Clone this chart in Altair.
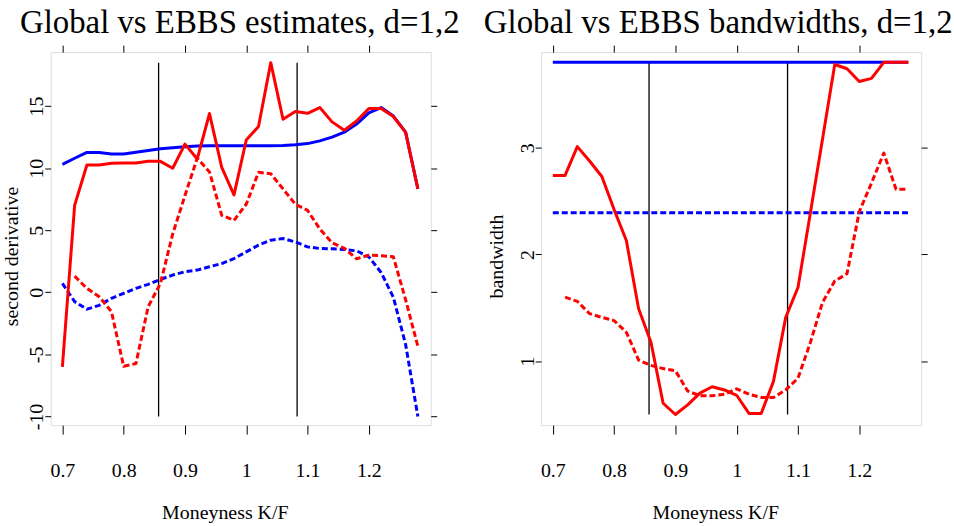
import altair as alt
import pandas as pd

FONT = "Liberation Serif"
BLUE = "#0000FF"
RED = "#FF0000"

# Moneyness grid
x_vals = [0.70, 0.72, 0.74, 0.76, 0.78, 0.80, 0.82, 0.84, 0.86, 0.88,
          0.90, 0.92, 0.94, 0.96, 0.98, 1.00, 1.02, 1.04, 1.06, 1.08,
          1.10, 1.12, 1.14, 1.16, 1.18, 1.20, 1.22, 1.24, 1.26, 1.28]

# Left panel: second derivative estimates
est_global_d1 = [10.3, 10.8, 11.27, 11.27, 11.15, 11.14, 11.28, 11.42, 11.56, 11.65,
                 11.72, 11.78, 11.8, 11.8, 11.8, 11.8, 11.8, 11.8, 11.83, 11.89,
                 11.98, 12.2, 12.5, 12.9, 13.55, 14.45, 14.88, 14.2, 12.9, 8.33]
est_ebbs_d1 = [-6.0, 7.0, 10.26, 10.26, 10.4, 10.42, 10.42, 10.55, 10.55, 9.99,
               11.94, 10.74, 14.4, 10.07, 7.85, 12.27, 13.35, 18.5, 13.94, 14.56,
               14.42, 14.88, 13.73, 13.06, 13.8, 14.8, 14.8, 14.16, 12.88, 8.33]
est_global_d2 = [0.72, -0.75, -1.36, -1.05, -0.48, -0.08, 0.32, 0.64, 1.04, 1.39,
                 1.66, 1.79, 2.06, 2.32, 2.72, 3.26, 3.8, 4.2, 4.33, 4.06,
                 3.66, 3.53, 3.5, 3.45, 3.34, 2.85, 1.6, -0.4, -4.2, -10.0]
est_ebbs_d2 = [None, 1.3, 0.32, -0.35, -1.55, -5.96, -5.74, -1.15, 0.72, 4.7,
               7.8, 10.8, 9.7, 6.2, 5.8, 7.1, 9.67, 9.55, 8.33, 7.1,
               6.6, 5.1, 4.0, 3.55, 2.7, 3.0, 2.95, 2.86, -0.6, -4.35]

# Right panel: bandwidths
bw_global_d1 = [3.8] * 30
bw_global_d2 = [2.39] * 30
bw_ebbs_d1 = [2.74, 2.74, 3.01, 2.875, 2.73, 2.42, 2.13, 1.49, 1.18, 0.605,
              0.50, 0.59, 0.70, 0.76, 0.73, 0.68, 0.51, 0.51, 0.81, 1.41,
              1.69, 2.38, 3.08, 3.78, 3.74, 3.62, 3.65, 3.80, 3.80, 3.80]
bw_ebbs_d2 = [None, 1.60, 1.56, 1.445, 1.41, 1.38, 1.27, 1.01, 0.96, 0.93,
              0.91, 0.72, 0.675, 0.675, 0.69, 0.74, 0.69, 0.66, 0.66, 0.73,
              0.84, 1.17, 1.55, 1.75, 1.82, 2.4, 2.67, 2.95, 2.61, 2.61]

# vertical reference lines
vline_x = [0.857, 1.083]
vline_left = (-10.0, 18.5)
vline_right = (0.5, 3.8)

x_ticks = [0.7, 0.8, 0.9, 1.0, 1.1, 1.2]
x_domain = [0.681, 1.301]

W, H = 382, 375
FS = 20


def series_df(vals):
    return pd.DataFrame({"x": x_vals, "y": vals}).dropna()


def panel(title, series, yd, yticks, ytitle, vy, tdx, ytx):
    xs = alt.Scale(domain=x_domain, nice=False, zero=False)
    ys = alt.Scale(domain=yd, nice=False, zero=False)
    ax_bottom = alt.Axis(values=x_ticks, format=".1~f", orient="bottom", title="Moneyness K/F",
                         domain=False, grid=False, ticks=True, tickSize=9, tickColor="black",
                         tickWidth=1, labelFont=FONT, labelFontSize=FS, labelColor="black",
                         labelBaseline="alphabetic", labelPadding=43, labelFlush=False,
                         titleFont=FONT, titleFontSize=FS, titleFontWeight="normal",
                         titleColor="black", titleX=175, titleY=94, titleBaseline="alphabetic",
                         titleAlign="center")
    ax_left = alt.Axis(values=yticks, labelExpr="'' + datum.value", orient="left", title=ytitle,
                       domain=False, grid=False, tickSize=6, tickColor="black", tickWidth=1,
                       labelFont=FONT, labelFontSize=FS, labelColor="black", labelAngle=270,
                       labelAlign="center", labelBaseline="alphabetic", labelPadding=2,
                       labelFlush=False,
                       titleFont=FONT, titleFontSize=FS, titleFontWeight="normal",
                       titleColor="black", titleAngle=270, titleX=ytx, titleY=205,
                       titleBaseline="alphabetic", titleAlign="center")
    ax_top = alt.Axis(values=x_ticks, orient="top", title=None, labels=False, domain=False,
                      grid=False, tickSize=7, tickColor="black", tickWidth=1)
    ax_right = alt.Axis(values=yticks, orient="right", title=None, labels=False, domain=False,
                        grid=False, tickSize=6, tickColor="black", tickWidth=1)

    vdf = pd.DataFrame({"x": vline_x, "y": [vy[0]] * 2, "y2": [vy[1]] * 2})
    rules = alt.Chart(vdf).mark_rule(color="black", strokeWidth=1.3).encode(
        x=alt.X("x:Q", scale=xs, axis=ax_top),
        y=alt.Y("y:Q", scale=ys, axis=ax_right),
        y2="y2:Q",
    )
    layers = [rules]
    first = True
    for vals, color, dashed in series:
        kw = dict(color=color, strokeWidth=3, strokeCap="butt", strokeJoin="round", clip=True)
        if dashed:
            kw["strokeDash"] = [6, 3]
        layers.append(
            alt.Chart(series_df(vals)).mark_line(**kw).encode(
                x=alt.X("x:Q", scale=xs, axis=ax_bottom if first else None),
                y=alt.Y("y:Q", scale=ys, axis=ax_left if first else None),
            )
        )
        first = False
    return alt.layer(*layers).resolve_axis(x="independent", y="independent").properties(
        width=W, height=H,
        title=alt.TitleParams(title, font=FONT, fontSize=33, fontWeight="normal", color="black",
                              anchor="middle", frame="group", baseline="alphabetic",
                              offset=-21, dx=tdx),
    )


left = panel("Global vs EBBS estimates, d=1,2",
             [(est_global_d1, BLUE, False), (est_global_d2, BLUE, True),
              (est_ebbs_d1, RED, False), (est_ebbs_d2, RED, True)],
             [-10.7, 19.35], [-10, -5, 0, 5, 10, 15], "second derivative", vline_left, -1, -33)
right = panel("Global vs EBBS bandwidths, d=1,2",
              [(bw_global_d1, BLUE, False), (bw_global_d2, BLUE, True),
               (bw_ebbs_d1, RED, False), (bw_ebbs_d2, RED, True)],
              [0.40, 3.896], [1, 2, 3], "bandwidth", vline_right, -13, -39)

chart = alt.hconcat(left, right, spacing=111, bounds="flush").properties(
    padding={"left": 1, "top": 5, "right": 0, "bottom": 0}
).configure_view(stroke="black", strokeWidth=1.3).configure(background="white")

chart.save("out.html", embed_options={"renderer": "svg", "actions": False})
